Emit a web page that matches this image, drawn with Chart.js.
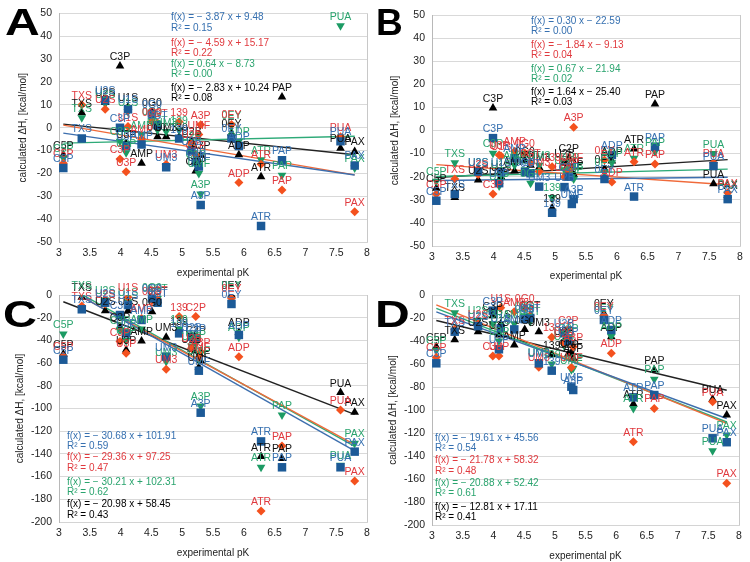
<!DOCTYPE html>
<html>
<head>
<meta charset="utf-8">
<script src="https://cdn.jsdelivr.net/npm/chart.js@4.4.1/dist/chart.umd.min.js"></script>
<style>
  body { margin: 0; background: #fff; }
  #wrap { position: relative; width: 750px; height: 562px; }
  .panel { position: absolute; width: 375px; height: 281px; }
</style>
</head>
<body>
<div id="wrap">
  <div class="panel" style="left:0;top:0"><canvas id="cA" width="375" height="281"></canvas></div>
  <div class="panel" style="left:375px;top:0"><canvas id="cB" width="375" height="281"></canvas></div>
  <div class="panel" style="left:0;top:281px"><canvas id="cC" width="375" height="281"></canvas></div>
  <div class="panel" style="left:375px;top:281px"><canvas id="cD" width="375" height="281"></canvas></div>
</div>
<script>
// compounds and their experimental pK (shared by all panels)
const compounds = ['C5P', 'TXS', 'U2S', 'C3P', 'U3P', 'U1S', 'AMP', '0G0', '0GT', 'UM3', '139',
                   'U2B', 'C2P', 'UMF', 'A3P', '0EY', 'ADP', 'ATR', 'PAP', 'PUA', 'PAX'];
const pK = [3.07, 3.37, 3.75, 3.99, 4.09, 4.12, 4.34, 4.51, 4.6, 4.74, 4.95,
            5.15, 5.22, 5.27, 5.3, 5.8, 5.92, 6.28, 6.62, 7.57, 7.8];

// panel A
const aBlue  = [-17.6, -4.7, 12, 0, -8, 8, -7.4, 6, 1, -17.3, -4.8, -10, -15, -17, -33.8, -4.6, -8, -43, -14.3, -6, -16.5];
const aRed   = [-15.6, 10, 8, -13.7, -19.3, 0.5, -5, 2.6, 2, -16, 2.6, -7, -12, -3, 1.3, 1.4, -24, -16, -27.3, -4, -36.8];
const aGreen = [-13.3, 4.3, 10.5, -6, -11, 7, -3, 3, -1, -1.7, -1, -8, -16, -20, -29, 1, -6, -14, -20.8, 44.6, -17.6];
const aBlack = [-12, 6.5, 11, 27, -7, 9, -15.6, 7, -4, -4, -4, -6, -19, -17, -12, -2.5, -11.9, -21.5, 13.4, -9, -10.4];
// panel B
const bBlue  = [-30.4, -27.5, -17.8, -3.3, -22.8, -18, -12, -18, -18.5, -24.3, -35.6, -24.5, -20, -31.8, -29.7, -21, -10.6, -28.6, -7, -15.4, -29.7];
const bRed   = [-27.5, -21, -19, -27.5, -10.6, -11, -9, -9.8, -14, -17.8, -15.7, -20, -18, -16, 1.4, -12.8, -22.3, -13.5, -14.5, -14, -27];
const bGreen = [-22, -14, -18, -9.8, -24, -19, -15, -17, -22.8, -15, -29, -17, -16, -20, -21, -18, -14, -12, -9.2, -10, -27.5];
const bBlack = [-25, -29, -21.4, 9.7, -22, -20, -17.5, -13, -15, -16, -33.5, -14, -12, -18, -19, -16.7, -13.2, -8, 11.5, -23, -28];
// panel C
const cBlue  = [-57, -12.6, -6.8, -17.6, -33.8, -8.8, -22, -3, -6.8, -54.3, -33.8, -36.7, -38, -66.7, -103.7, -7.9, -35.2, -129, -151.8, -151.8, -138];
const cRed   = [-54, -9.7, -8, -41, -51.4, -2, -20.6, -5, -4, -65.5, -19, -47, -19, -55, -50, -2.9, -54.3, -190.3, -133, -101.3, -163.9];
const cGreen = [-34.4, 0, -4.4, -31, -40, -6, -30, -2, -3, -58.7, -30, -45, -43, -57, -97.8, 2, -37.3, -151.8, -105.7, -150, -130.7];
const cBlack = [-52, -2, -13.8, -28, -48.5, -13.8, -40.5, -14.7, -5, -37.3, -32, -47.9, -40, -63.7, -58, 0, -33, -142.4, -144, -86, -103.4];
// panel D
const dBlue  = [-59.4, -31.9, -27, -13.6, -47.2, -29, -29.9, -21, -20, -59.4, -65.8, -33.3, -40, -79.7, -82.6, -21.7, -30.4, -89, -87, -124.6, -128];
const dRed   = [-54.2, -30, -25, -53, -53, -11, -14.5, -11.6, -18, -62.9, -36.8, -42, -30, -63, -45, -18, -50.7, -127.5, -98.6, -92.8, -163.8];
const dGreen = [-48, -15.4, -22, -25, -40, -30, -25, -18, -23, -58, -60, -44, -37, -65, -63.8, -20, -36, -98.6, -73.3, -135.4, -121.7];
const dBlack = [-45, -39, -31.9, -18, -34.8, -25, -43.5, -30, -17.4, -31.9, -52, -40, -51.3, -50, -55, -16, -36.2, -94.8, -65.2, -90.7, -104.3];

// linear fits [slope, intercept, R²] in order blue, red, green, black
const fitsA = [[-3.87, 9.48, 0.15], [-4.59, 15.17, 0.22], [0.64, -8.73, 0.00], [-2.83, 10.24, 0.08]];
const fitsB = [[0.30, -22.59, 0.00], [-1.84, -9.13, 0.04], [0.67, -21.94, 0.02], [1.64, -25.40, 0.03]];
const fitsC = [[-30.68, 101.91, 0.59], [-29.36, 97.25, 0.47], [-30.21, 102.31, 0.62], [-20.98, 58.45, 0.43]];
const fitsD = [[-19.61, 45.56, 0.54], [-21.78, 58.32, 0.48], [-20.88, 52.42, 0.61], [-12.81, 17.11, 0.41]];

const FONT = '"Liberation Sans", Arial, sans-serif';

const styles = [
    { point: 'rect', radius: 6, rotation: 0, fill: '#1c5a97', text: '#3670b0', line: '#3d6fae' },
    { point: 'rectRot', radius: 4.5, rotation: 0, fill: '#f4511e', text: '#e0393e', line: '#f06a3a' },
    { point: 'triangle', radius: 5, rotation: 180, fill: '#1c9b64', text: '#2aa46e', line: '#2eaa78' },
    { point: 'triangle', radius: 5, rotation: 0, fill: '#000000', text: '#111111', line: '#222222' }
];

const fmt = v => v.toFixed(2);
const equation = f => {
    const slope = f[0] < 0 ? '− ' + fmt(-f[0]) : fmt(f[0]);
    const icpt = f[1] < 0 ? ' − ' + fmt(-f[1]) : ' + ' + fmt(f[1]);
    return 'f(x) = ' + slope + ' x' + icpt;
};

const panels = [
    { id: 'cA', letter: 'A', letterX: 5, letterY: 35, letterScale: 1.3, series: [aBlue, aRed, aGreen, aBlack], fits: fitsA,
      yMin: -50, yMax: 50, yStep: 10, left: 59, right: 367, top: 11, bottom: 242, xTitleY: 273, yTitleX: 23,
      eqX: 171, eqY: [17, 28, 43, 53, 64, 74, 88, 98] },
    { id: 'cB', letter: 'B', letterX: 1, letterY: 35, letterScale: 1.0, series: [bBlue, bRed, bGreen, bBlack], fits: fitsB,
      yMin: -50, yMax: 50, yStep: 10, left: 57, right: 365, top: 15, bottom: 246, xTitleY: 276, yTitleX: 20,
      eqX: 156, eqY: [21, 31, 45, 55, 69, 79, 92, 102] },
    { id: 'cC', letter: 'C', letterX: 3, letterY: 46, letterScale: 1.27, series: [cBlue, cRed, cGreen, cBlack], fits: fitsC,
      yMin: -200, yMax: 0, yStep: 20, left: 59, right: 367, top: 14, bottom: 241, xTitleY: 272, yTitleX: 20,
      eqX: 67, eqY: [155, 165, 176, 187, 201, 211, 223, 234] },
    { id: 'cD', letter: 'D', letterX: 0, letterY: 46, letterScale: 1.3, series: [dBlue, dRed, dGreen, dBlack], fits: fitsD,
      yMin: -200, yMax: 0, yStep: 20, left: 57, right: 364, top: 14, bottom: 244, xTitleY: 275, yTitleX: 18,
      eqX: 60, eqY: [157, 167, 179, 190, 202, 212, 226, 236] }
];

const decorate = {
    id: 'decorate',
    afterDatasetsDraw(chart, args, opts) {
        const ctx = chart.ctx;
        const p = opts.panel;
        const area = chart.chartArea;
        ctx.save();
        // right frame line
        ctx.strokeStyle = '#c8c8c8';
        ctx.lineWidth = 1;
        ctx.beginPath();
        ctx.moveTo(Math.round(area.right) + 0.5, area.top);
        ctx.lineTo(Math.round(area.right) + 0.5, area.bottom);
        ctx.stroke();
        // point labels, blue drawn last so it ends up on top
        ctx.font = '10.5px ' + FONT;
        ctx.textAlign = 'center';
        ctx.textBaseline = 'alphabetic';
        for (let s = 3; s >= 0; s--) {
            const meta = chart.getDatasetMeta(s);
            ctx.fillStyle = styles[s].text;
            meta.data.forEach((el, i) => {
                ctx.fillText(compounds[i], el.x, el.y - 6);
            });
        }
        // fit equations
        ctx.font = '10px ' + FONT;
        ctx.textAlign = 'left';
        ctx.textBaseline = 'middle';
        p.fits.forEach((f, s) => {
            ctx.fillStyle = s === 3 ? '#000' : styles[s].text;
            ctx.fillText(equation(f), p.eqX, p.eqY[s * 2]);
            ctx.fillText('R² = ' + fmt(f[2]), p.eqX, p.eqY[s * 2 + 1]);
        });
        // panel letter
        ctx.fillStyle = '#000';
        ctx.font = 'bold 37px ' + FONT;
        ctx.textBaseline = 'alphabetic';
        ctx.translate(p.letterX, p.letterY);
        ctx.scale(p.letterScale, 1);
        ctx.fillText(p.letter, 0, 0);
        ctx.restore();
    }
};

panels.forEach(p => {
    const datasets = p.series.map((vals, s) => ({
        type: 'scatter',
        data: vals.map((v, i) => ({ x: pK[i], y: v })),
        pointStyle: styles[s].point,
        pointRadius: styles[s].radius,
        pointRotation: styles[s].rotation,
        backgroundColor: styles[s].fill,
        borderColor: styles[s].fill,
        borderWidth: 0,
        showLine: false
    }));
    const x0 = pK[0], x1 = pK[pK.length - 1];
    p.fits.forEach((f, s) => {
        datasets.push({
            type: 'line',
            data: [{ x: x0, y: f[0] * x0 + f[1] }, { x: x1, y: f[0] * x1 + f[1] }],
            borderColor: styles[s].line,
            borderWidth: 1.4,
            pointRadius: 0,
            fill: false
        });
    });

    new Chart(document.getElementById(p.id), {
        type: 'scatter',
        data: { datasets },
        options: {
            responsive: false,
            animation: false,
            layout: { padding: { left: 0, top: p.top, right: 375 - p.right, bottom: 0 } },
            plugins: {
                legend: { display: false },
                tooltip: { enabled: false },
                decorate: { panel: p }
            },
            scales: {
                x: {
                    type: 'linear',
                    min: 3, max: 8,
                    afterFit: sc => { sc.height = 281 - p.bottom; },
                    grid: { display: false, drawTicks: false },
                    border: { display: true, color: '#d4d4d4' },
                    ticks: {
                        stepSize: 0.5, padding: 5, color: '#222',
                        font: { family: FONT, size: 10.5 },
                        callback: v => String(v)
                    },
                    title: {
                        display: true, text: 'experimental pK', color: '#222',
                        font: { family: FONT, size: 10 },
                        padding: { top: 0, bottom: 281 - p.xTitleY - 6 }
                    }
                },
                y: {
                    min: p.yMin, max: p.yMax,
                    afterFit: sc => { sc.width = p.left; },
                    grid: { color: '#d9d9d9', drawTicks: false },
                    border: { display: true, color: '#b8b8b8' },
                    ticks: { stepSize: p.yStep, padding: 7, color: '#222', font: { family: FONT, size: 10.5 } },
                    title: {
                        display: true, text: 'calculated ΔH, [kcal/mol]', color: '#222',
                        font: { family: FONT, size: 10 },
                        padding: { top: p.yTitleX - 6, bottom: 0 }
                    }
                }
            }
        },
        plugins: [decorate]
    });
});
</script>
</body>
</html>
